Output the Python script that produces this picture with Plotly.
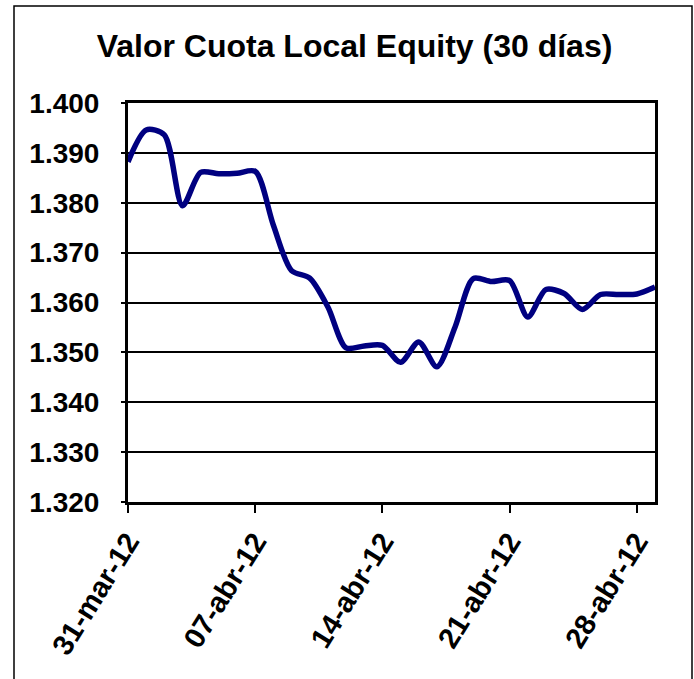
import plotly.graph_objects as go
import pandas as pd

# Data
dates = pd.date_range("2012-03-31", "2012-04-29", freq="D")
valor_cuota = [1388.2, 1394.6, 1393.6, 1379.4, 1386.1, 1385.8, 1385.9, 1386.3,
               1375.5, 1366.4, 1364.9, 1359.1, 1350.9, 1351.3, 1351.4, 1348.0,
               1352.1, 1347.1, 1355.1, 1364.8, 1364.2, 1364.4, 1357.1, 1362.6,
               1361.8, 1358.6, 1361.6, 1361.6, 1361.7, 1363.1]
tick_dates = ["2012-03-31", "2012-04-07", "2012-04-14", "2012-04-21", "2012-04-28"]
tick_labels = ["31-mar-12", "07-abr-12", "14-abr-12", "21-abr-12", "28-abr-12"]
y_ticks = [1320, 1330, 1340, 1350, 1360, 1370, 1380, 1390, 1400]

FONT = "Liberation Sans, Arial, sans-serif"

fig = go.Figure()
fig.add_trace(go.Scatter(
    x=dates, y=valor_cuota, mode="lines",
    line=dict(color="#000080", width=5.5, shape="spline", smoothing=0.8),
    hoverinfo="x+y", showlegend=False,
))

W, H = 694, 679
L, R, T, B = 128, 655, 103, 502

fig.update_layout(
    width=W, height=H,
    margin=dict(l=L, r=W - R, t=T, b=H - B),
    paper_bgcolor="white", plot_bgcolor="white",
    font=dict(family=FONT, color="black"),
    title=dict(text="<b>Valor Cuota Local Equity (30 días)</b>",
               x=354.5 / W, xref="container", xanchor="center",
               y=1 - 46 / H, yref="container", yanchor="middle",
               font=dict(size=32, family=FONT, color="black")),
)

fig.update_xaxes(
    type="date",
    range=["2012-03-31", "2012-04-29"],
    tickvals=tick_dates, ticktext=["<b>%s</b>" % t for t in tick_labels],
    tickangle=-58, tickfont=dict(size=29, family=FONT, color="black"),
    ticks="outside", ticklen=8, tickwidth=1.5, tickcolor="black",
    showgrid=False, zeroline=False,
    showline=True, linecolor="black", linewidth=3, mirror=True,
)
fig.update_yaxes(
    range=[1320, 1400],
    tickvals=y_ticks, ticktext=["<b>%s</b>" % "{:,.0f}".format(v).replace(",", ".") for v in y_ticks],
    tickfont=dict(size=28, family=FONT, color="black"),
    ticks="outside", ticklen=4, tickwidth=1.5, tickcolor="black",
    ticklabelstandoff=16,
    showgrid=True, gridcolor="black", gridwidth=1.5,
    zeroline=False,
    showline=True, linecolor="black", linewidth=3, mirror=True,
)

# Outer chart-area border
fig.add_shape(type="rect", xref="paper", yref="paper",
              x0=(14 - L) / (R - L), x1=(692 - L) / (R - L),
              y0=(B - 700) / (B - T), y1=(B - 6) / (B - T),
              line=dict(color="black", width=1.5), fillcolor="rgba(0,0,0,0)",
              layer="below")

fig.write_html("out.html", config={"displayModeBar": False},
               post_script="document.body.style.margin='0';document.body.style.overflow='hidden';")
